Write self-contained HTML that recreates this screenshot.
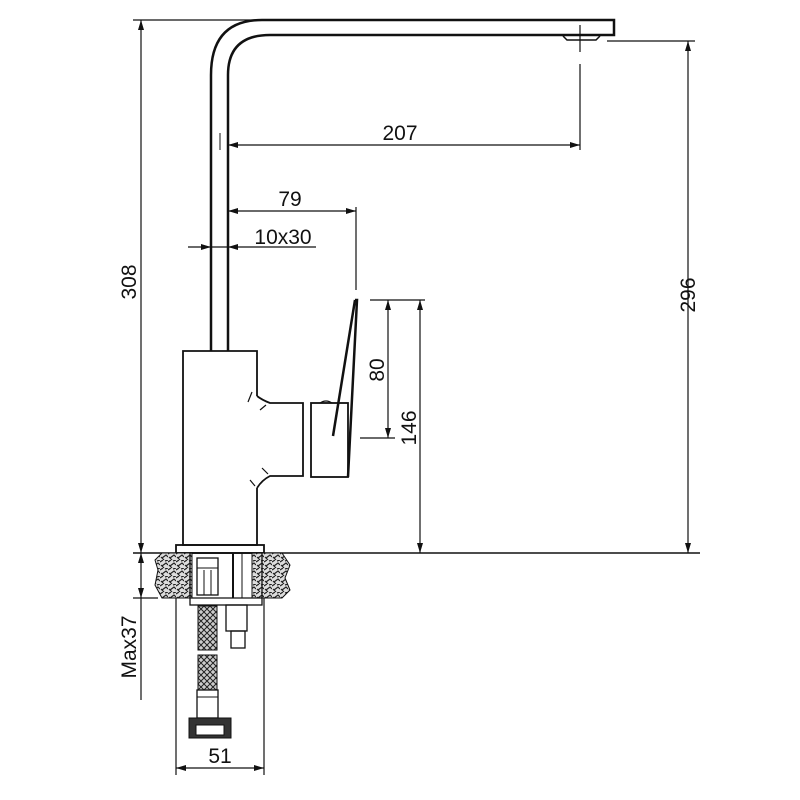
<!DOCTYPE html>
<html><head><meta charset="utf-8"><style>html,body{margin:0;padding:0;background:#fff}svg{display:block}text{font-family:"Liberation Sans",sans-serif;fill:#111}</style></head>
<body>
<svg width="800" height="800" viewBox="0 0 800 800" xmlns="http://www.w3.org/2000/svg">
<defs>
<pattern id="gr" width="8" height="8" patternUnits="userSpaceOnUse">
<rect width="8" height="8" fill="#ddd"/>
<path d="M0 2 L3 0 M2 6 L6 3 L8 5 M4 8 L1 5 M5 1 L8 0" stroke="#222" stroke-width="1.2" fill="none"/>
</pattern>
<pattern id="hs" width="6" height="6" patternUnits="userSpaceOnUse">
<rect width="6" height="6" fill="#ccc"/>
<path d="M0 0 L3 3 L6 0 M0 6 L3 3 L6 6" stroke="#222" stroke-width="1" fill="none"/>
</pattern>
</defs>
<g stroke="#111" fill="none">
<path d="M211 351 L211 75 Q211 20 262 20 L614 20 L614 35 L600 35" stroke-width="2.5"/>
<path d="M228 351 L228 75 Q228 35 270 35 L600 35" stroke-width="2.5"/>
<path d="M563 36 L567 40 L596 40 L600 36" stroke-width="1.5"/>
<line x1="580" y1="25" x2="580" y2="52" stroke-width="1.2"/>
<line x1="580" y1="64" x2="580" y2="150" stroke-width="1.2"/>
<line x1="133" y1="20" x2="258" y2="20" stroke-width="1.2"/>
<line x1="607" y1="41" x2="695" y2="41" stroke-width="1.2"/>
<line x1="141" y1="20" x2="141" y2="553" stroke-width="1.2"/>
<line x1="688" y1="41" x2="688" y2="553" stroke-width="1.2"/>
<line x1="228" y1="145" x2="580" y2="145" stroke-width="1.2"/>
<line x1="220" y1="133" x2="220" y2="150" stroke-width="1"/>
<line x1="228" y1="211" x2="356" y2="211" stroke-width="1.2"/>
<line x1="356" y1="207" x2="356" y2="290" stroke-width="1.2"/>
<line x1="188" y1="247" x2="316" y2="247" stroke-width="1.2"/>
<path d="M257 396 L257 351 L183 351 L183 545 L257 545 L257 488" stroke-width="1.8"/>
<path d="M257 396 Q262 400 270 403 L303 403 L303 476 L270 476 Q262 480 257 488" stroke-width="1.8"/>
<path d="M252 392 L248 402 M266 405 L260 410 M262 468 L268 474 M255 486 L250 480" stroke-width="1.2"/>
<rect x="311" y="403" width="37" height="74" stroke-width="1.8"/>
<path d="M355 300 L357 300 L348 477" stroke-width="2.5"/>
<path d="M355 300 L333 436" stroke-width="2.5"/>
<path d="M320 403 Q326 399 332 403" stroke-width="1.2"/>
<line x1="370" y1="300" x2="425" y2="300" stroke-width="1.2"/>
<line x1="360" y1="438" x2="395" y2="438" stroke-width="1.2"/>
<line x1="388" y1="300" x2="388" y2="438" stroke-width="1.2"/>
<line x1="420" y1="300" x2="420" y2="553" stroke-width="1.2"/>
<line x1="133" y1="553" x2="700" y2="553" stroke-width="1.5"/>
<rect x="176" y="545" width="88" height="8" stroke-width="1.8"/>
<path d="M162 553 L192 553 L192 598 L162 598 L155 585 L158 570 L155 560 Z" fill="url(#gr)" stroke-width="1"/>
<path d="M252 553 L282 553 L290 565 L285 578 L290 590 L282 598 L252 598 Z" fill="url(#gr)" stroke-width="1"/>
<rect x="190" y="553" width="72" height="52" stroke-width="1.3"/>
<line x1="190" y1="598" x2="262" y2="598" stroke-width="1.2"/>
<rect x="197" y="558" width="21" height="37" stroke-width="1.3"/>
<line x1="197" y1="568" x2="218" y2="568" stroke-width="1"/>
<line x1="204" y1="570" x2="204" y2="595" stroke-width="1"/><line x1="211" y1="570" x2="211" y2="595" stroke-width="1"/>
<line x1="233" y1="553" x2="233" y2="598" stroke-width="2"/>
<line x1="242" y1="553" x2="242" y2="598" stroke-width="1"/>
<rect x="198" y="606" width="19" height="44" fill="url(#hs)" stroke-width="1"/>
<rect x="198" y="655" width="19" height="35" fill="url(#hs)" stroke-width="1"/>
<rect x="197" y="690" width="21" height="28" stroke-width="1.3"/>
<line x1="197" y1="697" x2="218" y2="697" stroke-width="1"/>
<rect x="189" y="718" width="42" height="20" fill="#333" stroke-width="1"/>
<rect x="196" y="725" width="28" height="10" fill="#fff" stroke-width="1"/>
<rect x="226" y="605" width="21" height="26" stroke-width="1.3"/>
<rect x="231" y="631" width="14" height="17" stroke-width="1.3"/>
<line x1="133" y1="598" x2="158" y2="598" stroke-width="1.2"/>
<line x1="141" y1="553" x2="141" y2="700" stroke-width="1.2"/>
<line x1="176" y1="598" x2="176" y2="775" stroke-width="1.2"/>
<line x1="264" y1="598" x2="264" y2="775" stroke-width="1.2"/>
<line x1="176" y1="768" x2="264" y2="768" stroke-width="1.2"/>
</g>
<g fill="#111">
<path d="M141 20 l-3 10 h6z M141 553 l-3 -10 h6z M141 553 l-3 10 h6z M141 598 l-3 -10 h6z"/>
<path d="M688 41 l-3 10 h6z M688 553 l-3 -10 h6z"/>
<path d="M228 145 l10 -3 v6z M580 145 l-10 -3 v6z"/>
<path d="M228 211 l10 -3 v6z M356 211 l-10 -3 v6z"/>
<path d="M211 247 l-10 -3 v6z M228 247 l10 -3 v6z"/>
<path d="M388 300 l-3 10 h6z M388 438 l-3 -10 h6z"/>
<path d="M420 300 l-3 10 h6z M420 553 l-3 -10 h6z"/>
<path d="M176 768 l10 -3 v6z M264 768 l-10 -3 v6z"/>
</g>
<g font-size="21">
<text x="400" y="140" text-anchor="middle">207</text>
<text x="290" y="206" text-anchor="middle">79</text>
<text x="283" y="244" text-anchor="middle">10x30</text>
<text x="220" y="763" text-anchor="middle">51</text>
<text transform="translate(136,282) rotate(-90)" text-anchor="middle">308</text>
<text transform="translate(695,295) rotate(-90)" text-anchor="middle">296</text>
<text transform="translate(384,370) rotate(-90)" text-anchor="middle">80</text>
<text transform="translate(416,428) rotate(-90)" text-anchor="middle">146</text>
<text transform="translate(136,647) rotate(-90)" text-anchor="middle">Max37</text>
</g>
</svg>
</body></html>
